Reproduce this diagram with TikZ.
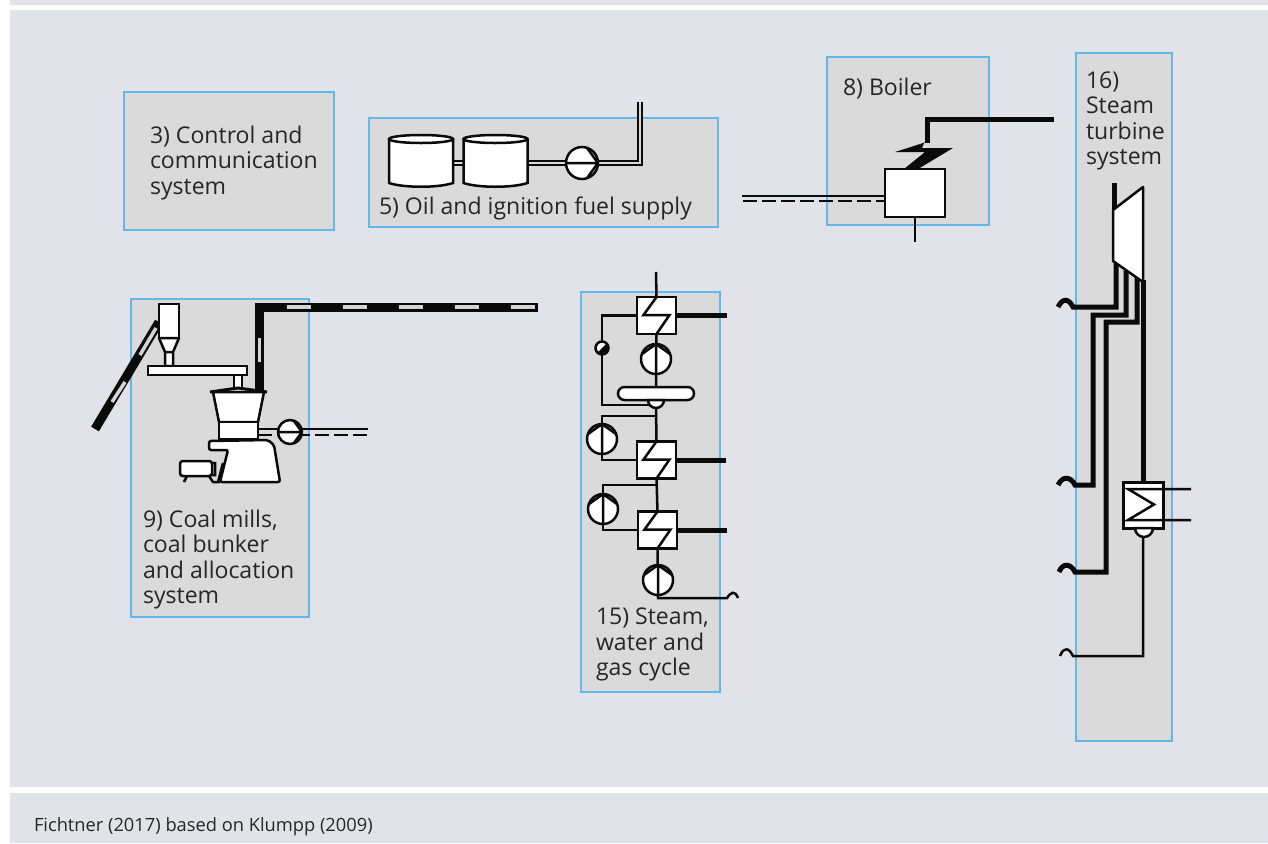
\documentclass[tikz,border=0pt]{standalone}
\usepackage{fontspec}
\setmainfont{Open Sans}
\definecolor{panelbg}{HTML}{E1E3E8}
\definecolor{sysfill}{HTML}{DADADA}
\definecolor{sysedge}{HTML}{62B8EA}
\definecolor{inkline}{HTML}{0A0A0A}
\definecolor{coalgap}{HTML}{D4D4D4}
\newcommand{\pbb}{path picture bounding box}
\newcommand{\tankbody}[1]{%
  \draw[part] (#1.north west) -- (#1.south west) .. controls +(15,5) and +(-15,5) .. (#1.south east) -- (#1.north east);
  \draw[part] (#1.north) ellipse[x radius=32,y radius=4];}

\begin{document}
\begin{tikzpicture}[x=0.025cm,y=-0.025cm,every node/.style={inner sep=0pt,outer sep=0pt},
  px/.style={line width=#1*0.025cm},
  sysbox/.style={draw=sysedge,fill=sysfill,px=2.5},
  syslabel/.style={anchor=north west,align=left,text=black!85,font=\fontsize{16.4}{18.1}\selectfont},
  thin pipe/.style={draw=inkline,px=2.5,line join=miter},
  heavy pipe/.style={draw=inkline,px=5},
  coal pipe/.style={draw=inkline,px=9},
  coal dash/.style={draw=coalgap,px=3.5},
  dbl pipe/.style={draw=inkline,px=1.7,double=sysfill,double distance=1.7*0.025cm},
  part/.style={draw=inkline,fill=white,px=2.5},
  tank/.style={minimum width=64*0.025cm,minimum height=44*0.025cm},
  exch/.style={part,rectangle,minimum width=39*0.025cm,minimum height=37*0.025cm,
    path picture={\draw[inkline,px=2.5] (\pbb.north) -- ++(-13,18) -- ++(26,0) -- (\pbb.south);}},
  pump up/.style={part,circle,minimum size=30*0.025cm,
    path picture={\draw[inkline,px=2.5] (\pbb.south) -- (\pbb.north)
      (\pbb.center) +(-14,-5) -- (\pbb.north) -- ([shift={(14,-5)}]\pbb.center);}},
  pump right/.style={part,circle,minimum size=#1*0.025cm,
    path picture={\draw[inkline,px=2.5] (\pbb.west) -- (\pbb.east)
      (\pbb.center) +({0.15*#1},{-0.48*#1}) -- (\pbb.east) -- ([shift={({-0.35*#1},{0.48*#1})}]\pbb.east);}}]
  % backgrounds
  \fill[white] (0,0) rectangle (1268,843);
  \fill[panelbg] (10,0) rectangle (1268,5);
  \fill[panelbg] (10,10) rectangle (1268,787);
  \fill[panelbg] (10,793) rectangle (1268,843);
  \node[anchor=base west,text=black!85,font=\fontsize{13}{15}\selectfont] (source) at (34,831) {Fichtner (2017) based on Klumpp (2009)};

  % system boxes
  \node[sysbox,minimum width=210*0.025cm,minimum height=138*0.025cm] (control) at (229,161) {};
  \node[sysbox,minimum width=349*0.025cm,minimum height=109*0.025cm] (oil) at (543.5,172.5) {};
  \node[sysbox,minimum width=162*0.025cm,minimum height=168*0.025cm] (boiler) at (908,141) {};
  \node[sysbox,minimum width=96*0.025cm,minimum height=688*0.025cm] (turbine) at (1124,397) {};
  \node[sysbox,minimum width=178*0.025cm,minimum height=318*0.025cm] (mills) at (220,458) {};
  \node[sysbox,minimum width=139*0.025cm,minimum height=400*0.025cm] (cycle) at (650.5,492) {};
  \node[syslabel] (controltxt) at (150,126) {3) Control and\\communication\\system};
  \node[syslabel] (oiltxt) at (379,197) {5) Oil and ignition fuel supply};
  \node[syslabel] (boilertxt) at (843,78) {8) Boiler};
  \node[syslabel] (turbinetxt) at (1086,71.5) {16)\\Steam\\turbine\\system};
  \node[syslabel] (millstxt) at (143,510) {9) Coal mills,\\coal bunker\\and allocation\\system};
  \node[syslabel] (cycletxt) at (596,608) {15) Steam,\\water and\\gas cycle};

  % oil supply
  \node[tank] (tankA) at (421,161) {};
  \node[tank] (tankB) at (495.5,161) {};
  \coordinate (oilend) at (640,102);
  \coordinate (oilin) at (582,163);
  \draw[dbl pipe] (tankA.east |- oilin) -- (tankB.west |- oilin);
  \draw[dbl pipe] (tankB.east |- oilin) -- (640,163) -- (oilend);
  \tankbody{tankA}
  \tankbody{tankB}
  \node[pump right=32] (oilpump) at (oilin) {};

  % boiler
  \node[part,minimum width=60*0.025cm,minimum height=48*0.025cm] (furnace) at (915,193) {};
  \coordinate (fuelA) at (742,196);
  \coordinate (fuelB) at (743,201);
  \coordinate (ash) at (915,242);
  \coordinate (steamout) at (1054,119);
  \draw[thin pipe] (fuelA) -- (fuelA -| furnace.west);
  \draw[thin pipe,dash pattern=on 13.5*0.025cm off 5.5*0.025cm] (fuelB) -- (fuelB -| furnace.west);
  \draw[thin pipe] (furnace.south) -- (ash);
  \draw[heavy pipe] (steamout) -| (927,143);
  \fill[inkline] (929.5,141) -- (895,152) -- (925,152) -- (904,169) -- (918,169) -- (953,148) -- (922,148) -- (924.5,142) -- cycle;

  % coal mill
  \coordinate (beltend) at (95,429);
  \coordinate (dustend) at (538,307);
  \coordinate (airend) at (368,429);
  \coordinate (airendB) at (368,435);
  \draw[coal pipe] (beltend) -- (159,322);
  \draw[coal dash] (125,382) -- (112,402);
  \draw[coal dash] (156,328) -- (140,355);
  \draw[coal pipe] (259.5,392) -- (259.5,307) -- (dustend);
  \draw[coal dash] (259.5,338) -- (259.5,362);
  \draw[coal dash,dash pattern=on 24*0.025cm off 32*0.025cm] (287,307) -- (dustend);
  \node[part,minimum width=20*0.025cm,minimum height=34*0.025cm] (bunker) at (169,321) {};
  \draw[part,line join=round] (159,338) -- (179,338) -- (173,352) -- (173,366) -- (165,366) -- (165,352) -- cycle (165,352) -- (173,352);
  \node[part,minimum width=99*0.025cm,minimum height=9*0.025cm] (feeder) at (197.5,370.5) {};
  \draw[part] (234,375) rectangle (242,388);
  \draw[part] (213,392) -- (219,422) -- (258,422) -- (264,392) -- cycle;
  \draw[inkline,px=3] (210,392) -- (238,388) -- (267,392);
  \node[part,minimum width=39*0.025cm,minimum height=17*0.025cm] (ring) at (238.5,430.5) {};
  \draw[part,rounded corners=1.5pt] (220,482) -- (228,450) -- (209,450) -- (209,441) -- (268,440) -- (274,445) -- (280,482) -- cycle;
  \node[part,rounded corners=2pt,minimum width=32*0.025cm,minimum height=15*0.025cm] (motor) at (196,468.5) {};
  \draw[thin pipe] (187,476) -- (184,482);
  \draw[thin pipe] (212,463) -- (215,463) -- (215,475) -- (212,475) (223,463) -- (218,482) (209,476) -- (213,482) -- (220,482);
  \draw[thin pipe] (258,429) -- (airend);
  \draw[thin pipe,dash pattern=on 13.5*0.025cm off 5.5*0.025cm] (258,435) -- (airendB);
  \node[pump right=24] (airpump) at (290,432) {};

  % steam and water cycle
  \node[exch] (heatA) at (656.5,315.5) {};
  \node[exch] (heatB) at (656.5,460) {};
  \node[exch] (heatC) at (657.5,530) {};
  \node[part,rounded corners=6.5*0.025cm,minimum width=76*0.025cm,minimum height=13*0.025cm] (drum) at (656,393.5) {};
  \coordinate (feedin) at (656,272);
  \coordinate (cycleout) at (727,598);
  \draw[thin pipe] (feedin) -- (heatA.north);
  \draw[thin pipe] (heatA.south) -- (drum.north);
  \draw[part] (648,400) arc[start angle=180,end angle=0,radius=8] -- cycle;
  \draw[thin pipe] (heatA.west) -- (602,315.5) -- (602,405) -- (650,405);
  \draw[thin pipe] (656,408) -- (heatB.north);
  \draw[thin pipe] (656,416) -- (602,416) -- (602,460) -- (heatB.west);
  \draw[thin pipe] (heatB.south) -- (heatC.north);
  \draw[thin pipe] (657,485) -- (603,485) -- (603,530) -- (heatC.west);
  \draw[thin pipe] (heatC.south) -- (658,598) -- (cycleout) .. controls (731,592) and (735,590) .. (738,598);
  \draw[heavy pipe] (heatA.east) -- ++(51,0);
  \draw[heavy pipe] (heatB.east) -- ++(50,0);
  \draw[heavy pipe] (heatC.east) -- ++(50,0);
  \node[pump up] (pumpA) at (656,359) {};
  \node[pump up] (pumpB) at (602,439) {};
  \node[pump up] (pumpC) at (603,509) {};
  \node[pump up] (pumpD) at (658,580) {};
  \node[part,circle,minimum size=13*0.025cm,fill=white,
    path picture={\fill[inkline] (\pbb.north east) -- (\pbb.south east) -- (\pbb.south west) -- cycle;}] (valve) at (602,348) {};

  % steam turbine
  \coordinate (steamin) at (1114,183);
  \draw[heavy pipe] (steamin) -- (1114,212);
  \draw[heavy pipe] (1116,258) -- (1116,307) -- (1073,307) .. controls (1069,299) and (1063,297) .. (1058,307);
  \draw[heavy pipe] (1126,265) -- (1126,315) -- (1093,315) -- (1093,485) -- (1075,485) .. controls (1071,477) and (1063,475) .. (1058,485);
  \draw[heavy pipe] (1137,272) -- (1137,322) -- (1106,322) -- (1106,572) -- (1075,572) .. controls (1071,564) and (1063,562) .. (1059,572);
  \draw[heavy pipe] (1143,280) -- (1143,482);
  \draw[part,line join=round] (1113,210) -- (1143,187) -- (1143,282) -- (1113,261) -- cycle;
  \node[part,px=3,minimum width=40*0.025cm,minimum height=46*0.025cm] (condenser) at (1143,505) {};
  \coordinate (coolA) at (1191,489);
  \coordinate (coolB) at (1191,520);
  \draw[thin pipe] (coolA) -- (1128,489) -- (1154,504.5) -- (1128,520) -- (coolB);
  \draw[part] (1135,528) arc[start angle=180,end angle=0,radius=9] -- cycle;
  \draw[thin pipe] (1143,537) -- (1143,656) -- (1073,656) .. controls (1069,648) and (1064,646) .. (1060,656);
\end{tikzpicture}
\end{document}
